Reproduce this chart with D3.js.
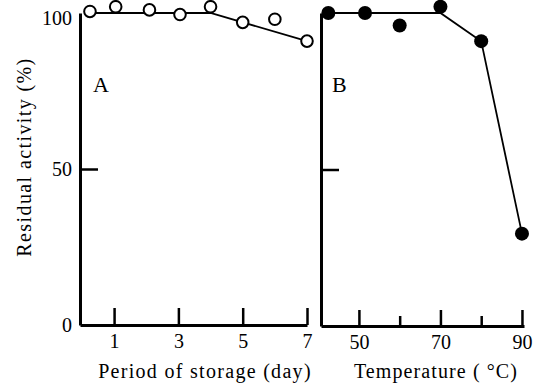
<!DOCTYPE html>
<html>
<head>
<meta charset="utf-8">
<script src="https://cdn.jsdelivr.net/npm/d3@7"></script>
<style>
  html, body { margin: 0; padding: 0; background: #fff; }
  svg { display: block; }
  text { font-family: "Liberation Serif", "DejaVu Serif", serif; fill: #000; }
</style>
</head>
<body>
<svg id="chart" width="542" height="388"></svg>
<script>
// ---- Data ----
// Panel A: storage stability
const storageDays = [0.25, 1.05, 2.1, 3.05, 4.0, 5.0, 6.0, 7.0];
const storageActivity = [100.5, 102, 101, 99.5, 102, 97, 98, 91];
const storageFitDays = [0.25, 4.0, 7.0];
const storageFitActivity = [100, 100, 91];
const storageTicks = [1, 3, 5, 7];

// Panel B: thermal stability
const temps = [42.5, 51.5, 60, 70, 80, 90];
const tempActivity = [100, 100, 96, 102, 91, 29.5];
const tempFitTemps = [42.5, 70, 80, 90];
const tempFitActivity = [100, 100, 91, 29.5];
const tempMajorTicks = [50, 70, 90];
const tempMinorTicks = [60, 80];

const yTicks = [0, 50, 100];

const svg = d3.select("#chart");

// ---- Scales ----
const xA = d3.scaleLinear().domain([-0.06, 7]).range([80, 307]);
const yA = d3.scaleLinear().domain([0, 100]).range([325, 13]);
const xB = d3.scaleLinear().domain([40.7, 90.5]).range([321, 524]);
const yB = d3.scaleLinear().domain([0, 100]).range([326, 13]);

function styleAxis(g, w) {
  g.select(".domain").attr("stroke", "#000").attr("stroke-width", w);
  g.selectAll(".tick line").attr("stroke", "#000").attr("stroke-width", 2.5);
  g.selectAll(".tick text").attr("font-family", "Liberation Serif, serif")
    .attr("font-size", 20).attr("fill", "#000");
}

// ---- Panel A axes ----
const gAx = svg.append("g").attr("transform", `translate(0,${yA(0)})`)
  .call(d3.axisBottom(xA).tickValues(storageTicks).tickFormat(d3.format("d"))
        .tickSizeInner(-17).tickSizeOuter(0).tickPadding(9));
styleAxis(gAx, 3);

const gAyL = svg.append("g").attr("transform", `translate(${xA.range()[0]},0)`)
  .call(d3.axisLeft(yA).tickValues(yTicks).tickSize(0).tickPadding(8));
styleAxis(gAyL, 3);
gAyL.selectAll(".tick text").filter(d => d === 100).attr("dy", "0.55em");
const gAyT = svg.append("g").attr("transform", `translate(${xA.range()[0]},0)`)
  .call(d3.axisLeft(yA).tickValues([50]).tickFormat("").tickSizeInner(-18).tickSizeOuter(0));
styleAxis(gAyT, 0);
gAyT.select(".domain").remove();

// ---- Panel B axes ----
const gBxMaj = svg.append("g").attr("transform", `translate(0,${yB(0)})`)
  .call(d3.axisBottom(xB).tickValues(tempMajorTicks).tickFormat(d3.format("d"))
        .tickSizeInner(-16).tickSizeOuter(0).tickPadding(9));
styleAxis(gBxMaj, 3);
const gBxMin = svg.append("g").attr("transform", `translate(0,${yB(0)})`)
  .call(d3.axisBottom(xB).tickValues(tempMinorTicks).tickFormat("")
        .tickSizeInner(-10).tickSizeOuter(0));
styleAxis(gBxMin, 0);
gBxMin.select(".domain").remove();

const gBy = svg.append("g").attr("transform", `translate(${xB.range()[0]},0)`)
  .call(d3.axisLeft(yB).tickValues([50]).tickFormat("").tickSizeInner(-18).tickSizeOuter(0));
styleAxis(gBy, 3);

// ---- Lines ----
const lineA = d3.line().x(d => xA(d[0])).y(d => yA(d[1]));
svg.append("path")
  .datum(d3.zip(storageFitDays, storageFitActivity))
  .attr("d", lineA).attr("fill", "none").attr("stroke", "#000").attr("stroke-width", 1.8);

const lineB = d3.line().x(d => xB(d[0])).y(d => yB(d[1]));
svg.append("path")
  .datum(d3.zip(tempFitTemps, tempFitActivity))
  .attr("d", lineB).attr("fill", "none").attr("stroke", "#000").attr("stroke-width", 1.8);

// ---- Markers ----
svg.append("g").selectAll("circle")
  .data(d3.zip(storageDays, storageActivity))
  .join("circle")
  .attr("cx", d => xA(d[0])).attr("cy", d => yA(d[1])).attr("r", 5.8)
  .attr("fill", "#fff").attr("stroke", "#000").attr("stroke-width", 2);

svg.append("g").selectAll("circle")
  .data(d3.zip(temps, tempActivity))
  .join("circle")
  .attr("cx", d => xB(d[0])).attr("cy", d => yB(d[1])).attr("r", 7)
  .attr("fill", "#000");

// ---- Panel letters ----
svg.append("text").attr("x", 93).attr("y", 92).attr("font-size", 22).text("A");
svg.append("text").attr("x", 332).attr("y", 92).attr("font-size", 22).text("B");

// ---- Axis titles ----
svg.append("text").attr("x", 205).attr("y", 378).attr("text-anchor", "middle")
  .attr("font-size", 20).attr("letter-spacing", 1.3).text("Period of storage (day)");
svg.append("text").attr("x", 436).attr("y", 378).attr("text-anchor", "middle")
  .attr("font-size", 20).attr("letter-spacing", 1.1).text("Temperature ( °C)");
svg.append("text")
  .attr("transform", "translate(31,157) rotate(-90)")
  .attr("text-anchor", "middle").attr("font-size", 20).attr("letter-spacing", 1.4)
  .text("Residual activity (%)");
</script>
</body>
</html>
